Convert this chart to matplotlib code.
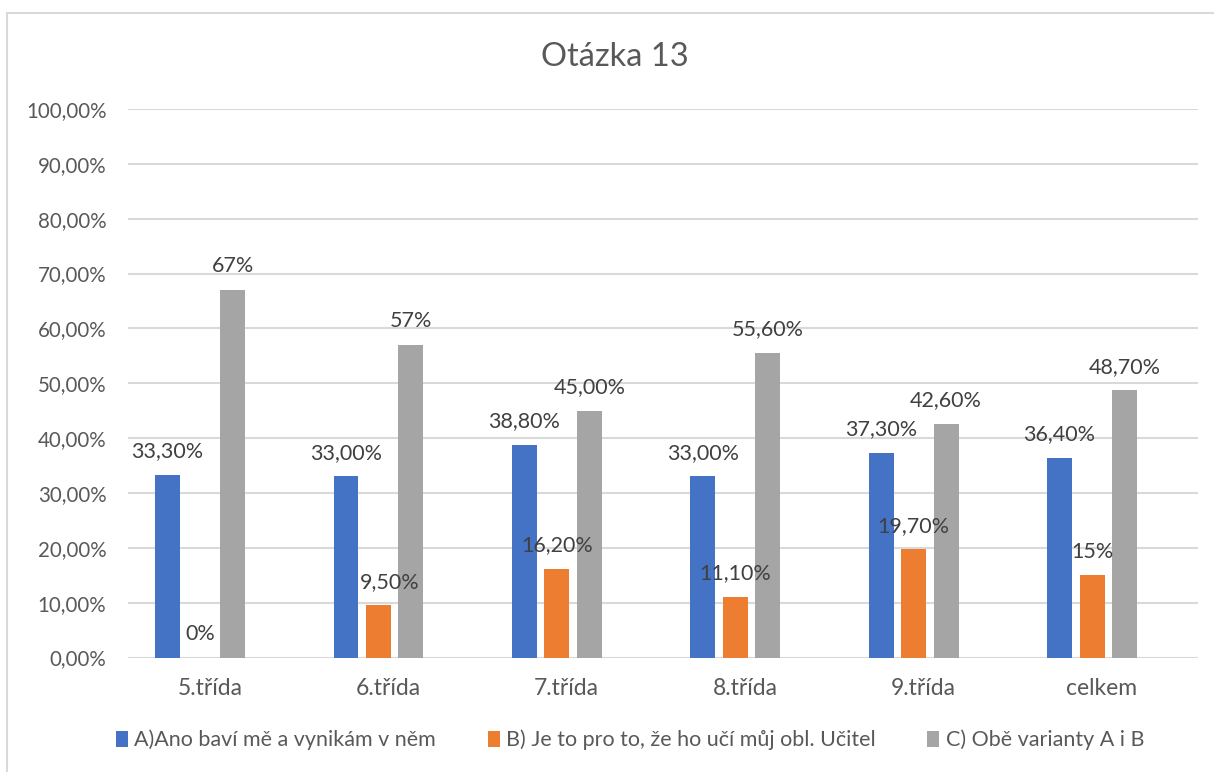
import matplotlib.pyplot as plt
from matplotlib.patches import Rectangle

categories = ['5.třída', '6.třída', '7.třída', '8.třída', '9.třída', 'celkem']
series_names = ['A)Ano baví mě a vynikám v něm',
                'B) Je to pro to, že ho učí můj obl. Učitel',
                'C) Obě varianty A i B']
a_vals = [33.3, 33.0, 38.8, 33.0, 37.3, 36.4]
b_vals = [0.0, 9.5, 16.2, 11.1, 19.7, 15.0]
c_vals = [67.0, 57.0, 45.0, 55.6, 42.6, 48.7]
a_labels = ['33,30%', '33,00%', '38,80%', '33,00%', '37,30%', '36,40%']
b_labels = ['0%', '9,50%', '16,20%', '11,10%', '19,70%', '15%']
c_labels = ['67%', '57%', '45,00%', '55,60%', '42,60%', '48,70%']
y_ticks = list(range(0, 101, 10))
y_tick_labels = ['%d,00%%' % v for v in y_ticks]

colors = ['#4472C4', '#ED7D31', '#A5A5A5']
plt.rcParams['font.family'] = ['Lato', 'DejaVu Sans']

fig = plt.figure(figsize=(12.14, 7.72), dpi=100)
ax = fig.add_axes([128 / 1214, 114.5 / 772, 1070 / 1214, 548.5 / 772])

# outer chart border (only top/left visible in the reference)
fig.patches.append(Rectangle((7 / 1214, -0.1), 1.2, (759 / 772) + 0.1,
                             transform=fig.transFigure, fill=False,
                             edgecolor='#D9D9D9', linewidth=1.5))

x = list(range(len(categories)))
width = 0.14
step = 0.182
all_vals = [a_vals, b_vals, c_vals]
all_labels = [a_labels, b_labels, c_labels]
for k in range(3):
    xs = [i + (k - 1) * step for i in x]
    ax.bar(xs, all_vals[k], width=width, color=colors[k],
           label=series_names[k], zorder=3)
    for xi, v, lab in zip(xs, all_vals[k], all_labels[k]):
        dx = 8 if lab == '9,50%' else 0
        ax.annotate(lab, (xi, v), xytext=(dx, 17), textcoords='offset points',
                    ha='center', va='center', fontsize=15.5, color='#404040',
                    zorder=5)

ax.set_xlim(-0.404, 5.594)
ax.set_ylim(0, 100)
ax.set_yticks(y_ticks)
ax.set_yticklabels(y_tick_labels)
ax.set_xticks([i + 0.055 for i in x])
ax.set_xticklabels(categories)
ax.tick_params(axis='both', length=0, colors='#595959')
ax.tick_params(axis='y', pad=15.5, labelsize=14.8)
ax.tick_params(axis='x', pad=14.5, labelsize=16.5)
ax.grid(axis='y', color='#D9D9D9', linewidth=1.5, zorder=0)
for s in ['top', 'right', 'left', 'bottom']:
    ax.spines[s].set_visible(False)

fig.text(615 / 1214, 1 - 57 / 772, 'Otázka 13', ha='center', va='center',
         fontsize=23.5, color='#595959')

fig.legend(loc='center', bbox_to_anchor=(630 / 1214, 1 - 740 / 772), ncol=3,
           frameon=False, fontsize=15.5, labelcolor='#595959',
           handlelength=0.55, handleheight=0.8, handletextpad=0.3,
           columnspacing=2.4)

fig.savefig('out.png', dpi=100)
